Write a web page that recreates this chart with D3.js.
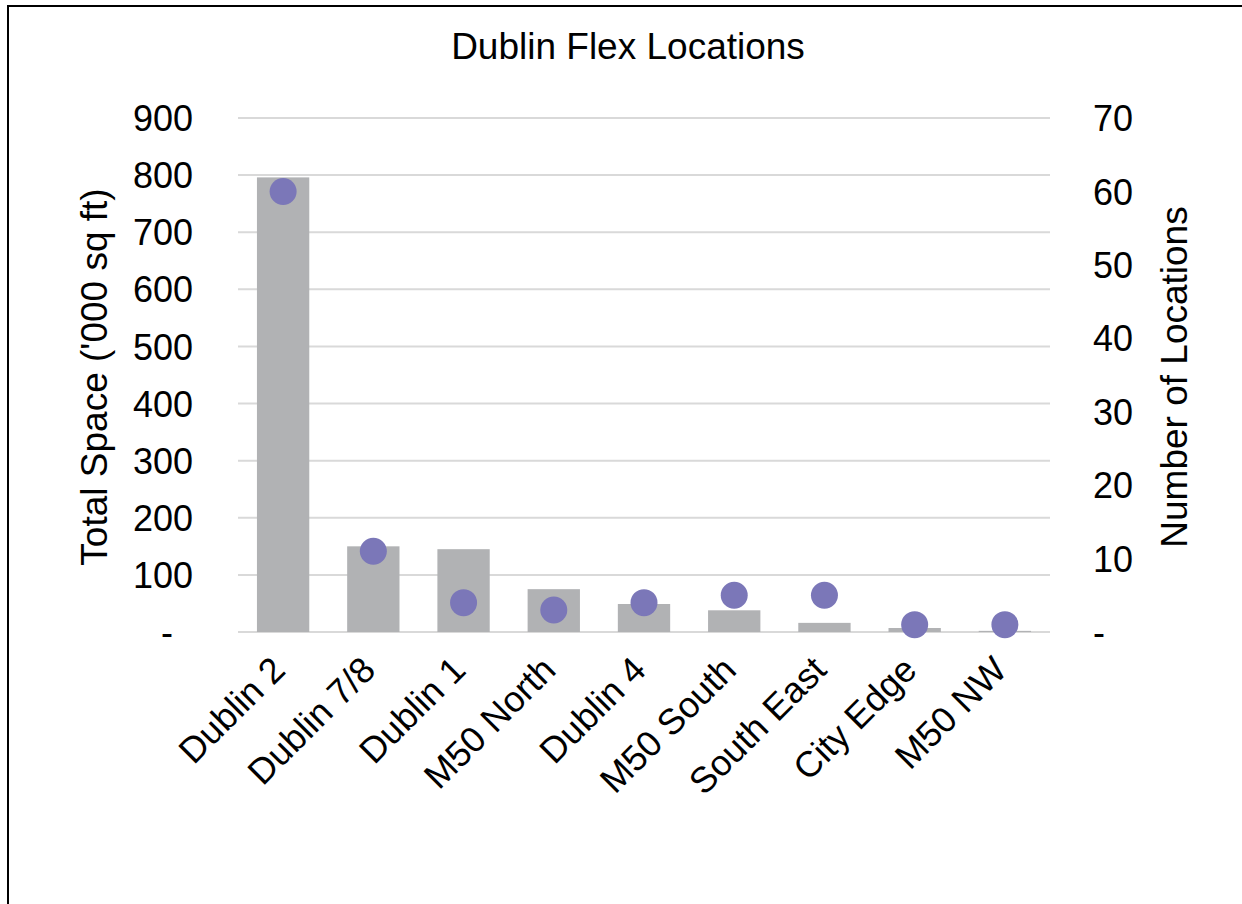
<!DOCTYPE html>
<html>
<head>
<meta charset="utf-8">
<script src="https://cdn.jsdelivr.net/npm/d3@7"></script>
<style>
  html, body { margin: 0; padding: 0; background: #fff; }
  svg { display: block; font-family: "Liberation Sans", Arial, sans-serif; }
</style>
</head>
<body>
<svg id="chart" width="1242" height="904"></svg>
<script>
// Dublin flex space: total floor area (bars, left axis) and number of locations (dots, right axis)
const categories = ["Dublin 2", "Dublin 7/8", "Dublin 1", "M50 North", "Dublin 4", "M50 South", "South East", "City Edge", "M50 NW"];
const totalSpace = [796, 150, 145, 75, 49, 38, 16, 7, 2];
const locationCount = [60, 11, 4, 3, 4, 5, 5, 1, 1];
const leftTicks = [0, 100, 200, 300, 400, 500, 600, 700, 800, 900];
const rightTicks = [0, 10, 20, 30, 40, 50, 60, 70];

const svg = d3.select("#chart");
const plot = { left: 238, right: 1050, top: 118, bottom: 632 };
const tickFont = 36;
const titleFont = 37;

// frame
svg.append("path")
  .attr("d", "M8,904 V6 H1242")
  .attr("fill", "none")
  .attr("stroke", "#000")
  .attr("stroke-width", 2);

const x = d3.scaleBand().domain(categories).range([plot.left, plot.right]).paddingInner(0.42).paddingOuter(0.21);
const yL = d3.scaleLinear().domain([0, 900]).range([plot.bottom, plot.top]);
const yR = d3.scaleLinear().domain([0, 70]).range([plot.bottom, plot.top]);

// gridlines
svg.append("g")
  .selectAll("line")
  .data(leftTicks)
  .join("line")
  .attr("x1", plot.left).attr("x2", plot.right)
  .attr("y1", d => yL(d)).attr("y2", d => yL(d))
  .attr("stroke", "#d9d9d9")
  .attr("stroke-width", 2);

// bars
svg.append("g")
  .selectAll("rect")
  .data(categories)
  .join("rect")
  .attr("x", d => x(d))
  .attr("width", x.bandwidth())
  .attr("y", (d, i) => yL(totalSpace[i]))
  .attr("height", (d, i) => yL(0) - yL(totalSpace[i]))
  .attr("fill", "#b1b2b4");

// location dots
svg.append("g")
  .selectAll("circle")
  .data(categories)
  .join("circle")
  .attr("cx", d => x(d) + x.bandwidth() / 2)
  .attr("cy", (d, i) => yR(locationCount[i]))
  .attr("r", 13.5)
  .attr("fill", "#7b77b8");

// left axis
const axL = d3.axisLeft(yL).tickValues(leftTicks).tickSize(0).tickPadding(0)
  .tickFormat(d => d === 0 ? "-\u00A0\u00A0" : d3.format("d")(d));
svg.append("g")
  .attr("transform", `translate(${plot.left - 45},0)`)
  .call(axL)
  .call(g => g.select(".domain").remove())
  .call(g => g.selectAll("text").attr("font-size", tickFont).attr("fill", "#000")
    .attr("font-family", "'Liberation Sans', Arial, sans-serif").attr("dy", "0.35em"));

// right axis
const axR = d3.axisRight(yR).tickValues(rightTicks).tickSize(0).tickPadding(0)
  .tickFormat(d => d === 0 ? "-" : d3.format("d")(d));
svg.append("g")
  .attr("transform", `translate(${plot.right + 43},0)`)
  .call(axR)
  .call(g => g.select(".domain").remove())
  .call(g => g.selectAll("text").attr("font-size", tickFont).attr("fill", "#000")
    .attr("font-family", "'Liberation Sans', Arial, sans-serif").attr("dy", "0.35em"));

// category labels
const axB = d3.axisBottom(x).tickSize(0).tickPadding(0);
svg.append("g")
  .attr("transform", `translate(0,${plot.bottom})`)
  .call(axB)
  .call(g => g.select(".domain").remove())
  .call(g => g.selectAll("text")
    .attr("font-size", tickFont).attr("fill", "#000")
    .attr("font-family", "'Liberation Sans', Arial, sans-serif")
    .attr("text-anchor", "end")
    .attr("dy", null).attr("y", null)
    .attr("transform", "translate(4,40) rotate(-45)"));

// titles
svg.append("text")
  .attr("x", 628).attr("y", 59)
  .attr("text-anchor", "middle")
  .attr("font-size", titleFont)
  .text("Dublin Flex Locations");

svg.append("text")
  .attr("transform", "translate(107,377) rotate(-90)")
  .attr("text-anchor", "middle")
  .attr("font-size", titleFont)
  .text("Total Space ('000 sq ft)");

svg.append("text")
  .attr("transform", "translate(1187,377) rotate(-90)")
  .attr("text-anchor", "middle")
  .attr("font-size", titleFont)
  .text("Number of Locations");
</script>
</body>
</html>
